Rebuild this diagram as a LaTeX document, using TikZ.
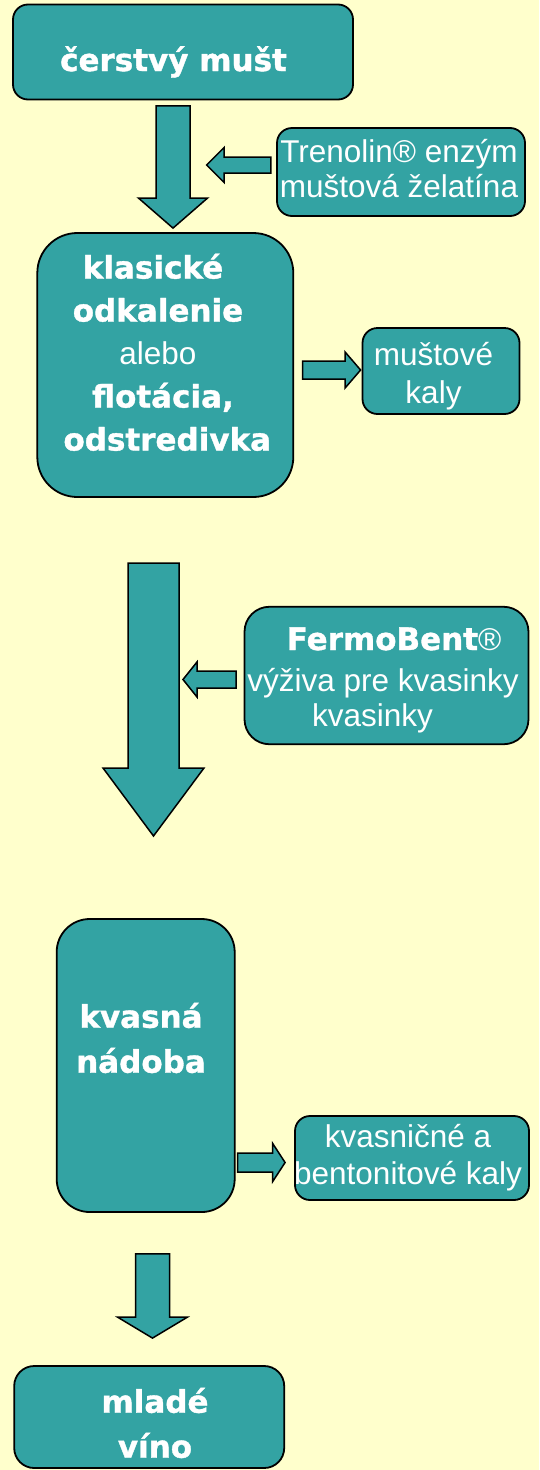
\documentclass[tikz,border=0pt]{standalone}
\usepackage{fontspec}
\setmainfont{Liberation Sans}
\newfontfamily\heavyfont{DejaVu Sans}[BoldFeatures={FakeBold=1.2}]
\usetikzlibrary{calc}
\definecolor{paper}{RGB}{255,255,204}
\definecolor{tealbox}{RGB}{51,163,163}
\newcommand{\heavy}{\heavyfont\bfseries\fontsize{31}{43}\selectfont}

\begin{document}
\begin{tikzpicture}[x=1pt, y=-1pt,
        % Define styles
        box/.style={rectangle, draw=black, line width=1.8pt, fill=tealbox, rounded corners=#1},
        box/.default=15pt,
        txt/.style={text=white, align=center, inner sep=0pt, anchor=base,
            font=\fontsize{31.5}{#1}\selectfont},
        txt/.default=35,
        big/.style={font=\heavyfont\bfseries\fontsize{31}{#1}\selectfont},
        big/.default=45,
        blockarrow/.style n args={3}{draw=black, line width=1.5pt, fill=tealbox, line join=miter,
            to path={($(\tikztostart)!#1!90:(\tikztotarget)$)
                -- ($(\tikztotarget)!#3!(\tikztostart)!#1!-90:(\tikztostart)$)
                -- ($(\tikztotarget)!#3!(\tikztostart)!#2!-90:(\tikztostart)$)
                -- (\tikztotarget)
                -- ($(\tikztotarget)!#3!(\tikztostart)!#2!90:(\tikztostart)$)
                -- ($(\tikztotarget)!#3!(\tikztostart)!#1!90:(\tikztostart)$)
                -- ($(\tikztostart)!#1!-90:(\tikztotarget)$) -- cycle}}
    ]

    % Background
    \fill[paper] (0,0) rectangle (539,1470);
    \useasboundingbox (0,0) rectangle (539,1470);

    % Boxes
    \node[box, minimum width=340pt, minimum height=95pt] (must) at (183,52) {};
    \node[box, minimum width=248pt, minimum height=88pt] (tren) at (401,172) {};
    \node[box=40pt, minimum width=256pt, minimum height=264pt] (odkal) at (165.3,365) {};
    \node[box, minimum width=157pt, minimum height=86pt] (kaly) at (441,371) {};
    \node[box=25pt, minimum width=284pt, minimum height=137.5pt] (fermo) at (386.5,675.5) {};
    \node[box=33pt, minimum width=178pt, minimum height=293pt] (kvas) at (145.7,1065.5) {};
    \node[box, minimum width=234pt, minimum height=84pt] (kvkaly) at (412,1158) {};
    \node[box=20pt, minimum width=270pt, minimum height=102pt] (mlade) at (149.2,1417) {};

    % Texts (base = last line)
    \node[txt, big] (mustT) at (173.5,71) {čerstvý mušt};
    \node[txt] (trenT) at (399,197) {Trenolin® enzým\\muštová želatína};
    \node[txt=43] (odkalT) at (158,450.5) {{\heavy klasické}\hspace*{10pt}\\{\heavy odkalenie}\hspace*{10pt}\\alebo\hspace*{22.6pt}\\\hspace*{10pt}{\heavy flotácia,}\\\hspace*{18.6pt}{\heavy odstredivka}};
    \node[txt=38.7] (kalyT) at (433.5,403.7) {muštové\\kaly};
    \node[txt] (fermoT) at (383,726.7) {\hspace*{22pt}{\heavy FermoBent}®\\[6.7pt]výživa pre kvasinky\\kvasinky\hspace*{21pt}};
    \node[txt, big] (kvasT) at (141,1072.7) {kvasná\\nádoba};
    \node[txt=36.7] (kvkalyT) at (408,1184) {kvasničné a\\bentonitové kaly};
    \node[txt, big] (mladeT) at (155,1457.7) {mladé\\víno};

    % Free ends of the arrows
    \coordinate (trenTip) at (206.6,165);
    \coordinate (a2s) at (153.5,563);
    \coordinate (a2t) at (153.5,836);
    \coordinate (fermoTip) at (183,679.5);

    % Block arrows
    \draw[blockarrow={17pt}{34.5pt}{30pt}] ($(must.south)+(-10,5.5)$) to ($(odkal.north)+(7.7,-4)$);
    \draw[blockarrow={8pt}{17.5pt}{17.5pt}] ($(tren.west)+(-5.3,-7)$) to (trenTip);
    \draw[blockarrow={9pt}{18pt}{15.5pt}] ($(odkal.east)+(8.3,5)$) to ($(kaly.west)+(-1,-1)$);
    \draw[blockarrow={25.5pt}{50.5pt}{68pt}] (a2s) to (a2t);
    \draw[blockarrow={8.5pt}{17.5pt}{14pt}] ($(fermo.west)+(-7.5,4)$) to (fermoTip);
    \draw[blockarrow={9.5pt}{19pt}{12.4pt}] ($(kvas.east |- kvkaly.west)+(2,4.5)$) to ($(kvkaly.west)+(-9,4.5)$);
    \draw[blockarrow={17pt}{35pt}{21pt}] ($(kvas.south)+(6.8,41)$) to ($(mlade.north)+(3.3,-27)$);

\end{tikzpicture}
\end{document}
